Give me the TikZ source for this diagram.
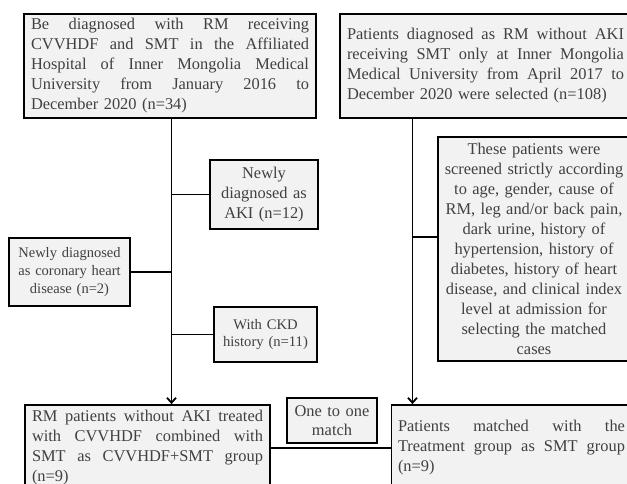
\documentclass[tikz,border=0pt]{standalone}
\usepackage{fontspec}
\setmainfont{Liberation Serif}
\usetikzlibrary{arrows.meta}
\newcommand\jl[1]{\hbox to \hsize{\spaceskip=0.25em plus 3em\relax #1}}
\begin{document}
\begin{tikzpicture}[x=1pt,y=-1pt,
  box/.style={draw=black, line width=1.8pt, fill=black!5, text=black!75, inner sep=0pt,
    font=\fontsize{16.4}{20}\selectfont},
  smallbox/.style={box, font=\fontsize{14.6}{17.5}\selectfont},
  conn/.style={line width=1.5pt, draw=black},
  arr/.style={conn, -{Straight Barb[length=5pt,width=9pt,line width=1.8pt]}}]
\useasboundingbox (0,0) rectangle (627,484);
\clip (0,0) rectangle (627,484);

\node[box, minimum width=292pt, minimum height=104pt, text width=278pt, align=left] (b1) at (170,66)
 {\jl{Be diagnosed with RM receiving}
  \jl{CVVHDF and SMT in the Affiliated}
  \jl{Hospital of Inner Mongolia Medical}
  \jl{University from January 2016 to}
  December 2020 (n=34)};

\node[box, minimum width=291pt, minimum height=104pt, text width=277pt, align=left] (b2) at (485.5,66)
 {\jl{Patients diagnosed as RM without AKI}
  \jl{receiving SMT only at Inner Mongolia}
  \jl{Medical University from April 2017 to}
  December 2020 were selected (n=108)};

\node[box, minimum width=192pt, minimum height=224pt, text width=186pt, align=center] (scr) at (534,249)
 {These patients were\\ screened strictly according\\ to age, gender, cause of\\ RM, leg and/or back pain,\\
  dark urine, history of\\ hypertension, history of\\ diabetes, history of heart\\ disease, and clinical index\\
  level at admission for\\ selecting the matched\\ cases};

\node[box, minimum width=108pt, minimum height=69pt, text width=102pt, align=center] (aki) at (264,194.5)
 {Newly\\ diagnosed as\\ AKI (n=12)};

\node[smallbox, font=\fontsize{14.5}{18}\selectfont, minimum width=121pt, minimum height=68pt, text width=115pt, align=center] (cor) at (69.5,272)
 {Newly diagnosed\\ as coronary heart\\ disease (n=2)};

\node[smallbox, minimum width=103pt, minimum height=55pt, text width=97pt, align=center] (ckd) at (265.5,334.5)
 {With CKD\\ history (n=11)};

\node[box, font=\fontsize{16.4}{19.5}\selectfont, minimum width=90pt, minimum height=45pt, text width=84pt, align=center] (one) at (332,420.5)
 {One to one\\ match};

\node[box, minimum width=245pt, minimum height=86pt, text width=231pt, align=left] (b3) at (147.5,448)
 {\jl{RM patients without AKI treated}
  \jl{with CVVHDF combined with}
  \jl{SMT as CVVHDF+SMT group}
  (n=9)};

\node[box, minimum width=240pt, minimum height=86pt, text width=227pt, align=left] (b4) at (511.5,448)
 {\jl{Patients matched with the}
  \jl{Treatment group as SMT group}
  (n=9)};

\coordinate (lt) at (171.5,0);
\coordinate (rt) at (412.5,0);
\coordinate (jy) at (0,237);

\draw[arr] (b1.south -| lt) -- (b3.north -| lt);
\draw[conn] (aki.west) -- (aki.west -| lt);
\draw[conn] (cor.east) -- (cor.east -| lt);
\draw[conn] (ckd.west) -- (ckd.west -| lt);
\draw[arr] (b2.south -| rt) -- (b4.north -| rt);
\draw[conn] (scr.west |- jy) -- (rt |- jy);
\draw[conn] (b3.east) -- (b4.west);
\end{tikzpicture}
\end{document}
